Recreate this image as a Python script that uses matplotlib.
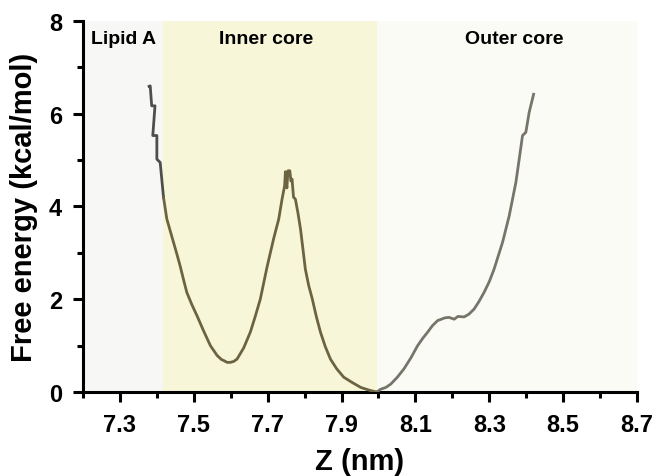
import matplotlib
matplotlib.use('Agg')
import matplotlib.pyplot as plt
from matplotlib.ticker import MultipleLocator, FixedLocator
import numpy as np

plt.rcParams['font.family'] = ['Liberation Sans', 'DejaVu Sans']
plt.rcParams['font.weight'] = 'bold'

# region boundaries (nm) and labels
regions = ['Lipid A', 'Inner core', 'Outer core']
region_edges = [7.2, 7.417, 7.995, 8.7]
region_colors = ['#f7f7f5', '#f7f6d9', '#fbfbf5']
region_label_x = [7.311, 7.697, 8.367]

# free energy profile, Lipid A part
z_lipid = [7.379, 7.382, 7.386, 7.395, 7.389, 7.400, 7.400, 7.409, 7.418]
g_lipid = [6.59, 6.60, 6.17, 6.17, 5.53, 5.53, 5.02, 4.95, 4.20]

# inner core part
z_inner = [7.418, 7.427, 7.436, 7.445, 7.454, 7.463, 7.472, 7.481, 7.495, 7.509,
           7.527, 7.545, 7.563, 7.575, 7.581, 7.590, 7.599, 7.608, 7.617, 7.635,
           7.653, 7.666, 7.680, 7.699, 7.716, 7.730, 7.739, 7.746, 7.748, 7.752,
           7.755, 7.760, 7.763, 7.766, 7.770, 7.775, 7.782, 7.789, 7.796, 7.802,
           7.811, 7.821, 7.832, 7.843, 7.856, 7.870, 7.887, 7.906, 7.928, 7.952,
           7.975, 7.995]
g_inner = [4.20, 3.73, 3.48, 3.23, 2.98, 2.72, 2.43, 2.15, 1.88, 1.64,
           1.31, 1.00, 0.79, 0.70, 0.68, 0.64, 0.64, 0.66, 0.71, 0.95,
           1.29, 1.62, 2.00, 2.72, 3.30, 3.73, 4.16, 4.45, 4.75, 4.40,
           4.77, 4.77, 4.55, 4.59, 4.20, 4.16, 3.86, 3.51, 3.05, 2.65,
           2.30, 2.00, 1.62, 1.29, 0.98, 0.71, 0.50, 0.32, 0.21, 0.10,
           0.04, 0.00]

# outer core part
z_outer = [7.995, 8.006, 8.020, 8.033, 8.050, 8.069, 8.088, 8.106, 8.120, 8.133,
           8.146, 8.160, 8.180, 8.191, 8.205, 8.215, 8.232, 8.245, 8.259, 8.272,
           8.286, 8.300, 8.313, 8.336, 8.354, 8.372, 8.381, 8.390, 8.399, 8.408,
           8.420]
g_outer = [0.00, 0.06, 0.10, 0.17, 0.31, 0.50, 0.74, 1.00, 1.16, 1.29,
           1.43, 1.54, 1.60, 1.61, 1.57, 1.63, 1.62, 1.68, 1.79, 1.95,
           2.15, 2.38, 2.65, 3.23, 3.80, 4.52, 5.02, 5.53, 5.60, 6.03,
           6.42]

fig = plt.figure(figsize=(6.57, 4.77), dpi=100)
ax = fig.add_axes([0.1263, 0.176, 0.8433, 0.778])

for i, name in enumerate(regions):
    ax.axvspan(region_edges[i], region_edges[i + 1], color=region_colors[i], lw=0, zorder=0)
    ax.text(region_label_x[i], 7.62, name, ha='center', va='center',
            fontsize=14, fontweight='bold')

ax.plot(z_lipid, g_lipid, color='#4e4e4c', lw=2, zorder=3)
ax.plot(z_inner, g_inner, color='#6c6340', lw=2, zorder=3)
ax.plot(z_outer, g_outer, color='#777569', lw=2, zorder=3)

ax.set_xlim(7.2, 8.7)
ax.set_ylim(0, 8)
ax.xaxis.set_major_locator(FixedLocator([7.3, 7.5, 7.7, 7.9, 8.1, 8.3, 8.5, 8.7]))
ax.xaxis.set_minor_locator(FixedLocator([7.2, 7.4, 7.6, 7.8, 8.0, 8.2, 8.4, 8.6]))
ax.yaxis.set_major_locator(MultipleLocator(2))
ax.yaxis.set_minor_locator(MultipleLocator(1))
ax.set_xticklabels(['7.3', '7.5', '7.7', '7.9', '8.1', '8.3', '8.5', '8.7'])

for s in ['top', 'right']:
    ax.spines[s].set_visible(False)
for s in ['left', 'bottom']:
    ax.spines[s].set_linewidth(2.2)

ax.tick_params(which='major', length=7, width=2.2, labelsize=17, pad=8)
ax.tick_params(which='minor', length=4, width=2.2)

ax.set_xlabel('Z (nm)', fontsize=21, fontweight='bold', labelpad=8)
ax.set_ylabel('Free energy (kcal/mol)', fontsize=21, fontweight='bold', labelpad=8)

fig.savefig('out.png', dpi=100)
